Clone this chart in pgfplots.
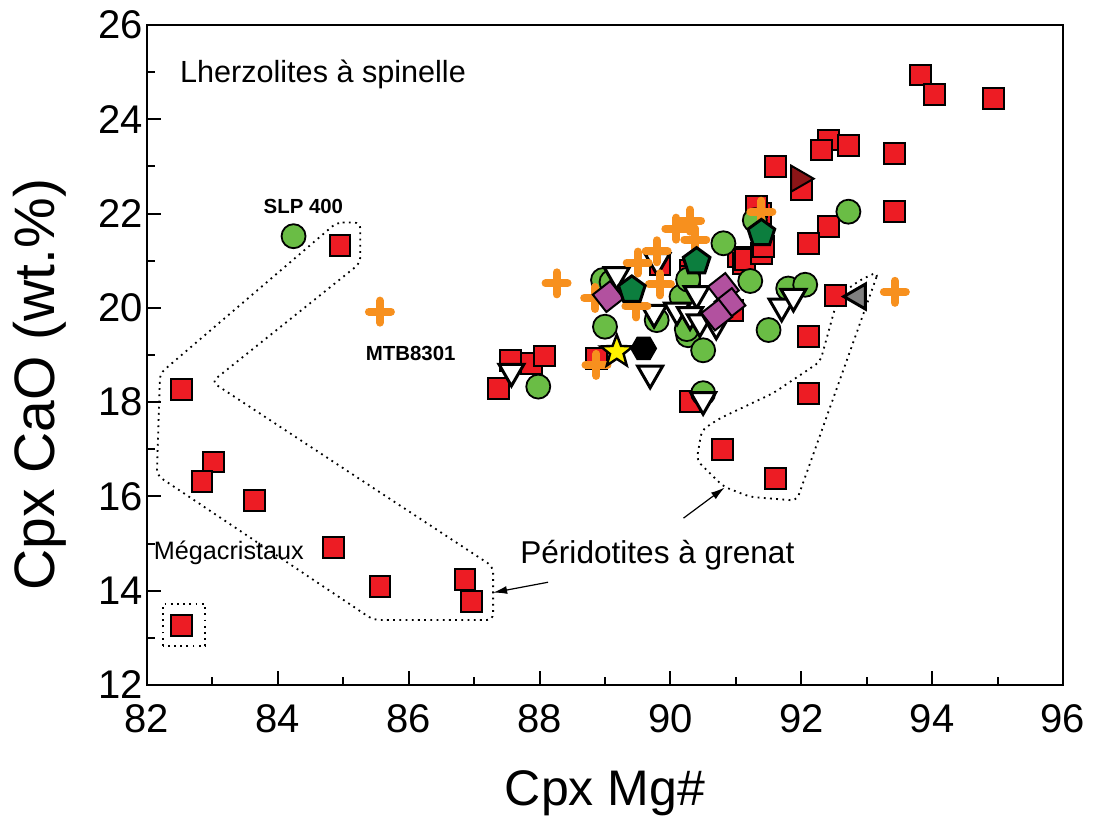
\documentclass[border=0pt]{standalone}
\usepackage{pgfplots}
\pgfplotsset{compat=1.18}
\usepackage{fontspec}
\setmainfont{Liberation Sans}
\usetikzlibrary{plotmarks,arrows.meta}

\definecolor{cred}{HTML}{ED1C24}
\definecolor{cgreen}{HTML}{6ABD45}
\definecolor{corange}{HTML}{F7901E}
\definecolor{cmag}{HTML}{B2519F}
\definecolor{cdgreen}{HTML}{0C7E3E}
\definecolor{cdred}{HTML}{8B1517}
\definecolor{cgray}{HTML}{808080}
\definecolor{cyellow}{HTML}{FFF200}

\pgfdeclareplotmark{hexagon*}{%
  \pgfpathmoveto{\pgfpointpolar{0}{\pgfplotmarksize}}%
  \pgfpathlineto{\pgfpointpolar{60}{\pgfplotmarksize}}%
  \pgfpathlineto{\pgfpointpolar{120}{\pgfplotmarksize}}%
  \pgfpathlineto{\pgfpointpolar{180}{\pgfplotmarksize}}%
  \pgfpathlineto{\pgfpointpolar{240}{\pgfplotmarksize}}%
  \pgfpathlineto{\pgfpointpolar{300}{\pgfplotmarksize}}%
  \pgfpathclose\pgfusepathqfillstroke}
\pgfdeclareplotmark{fstar}{%
  \pgfpathmoveto{\pgfpointpolar{90}{\pgfplotmarksize}}%
  \pgfpathlineto{\pgfpointpolar{126}{0.42*\pgfplotmarksize}}%
  \pgfpathlineto{\pgfpointpolar{162}{\pgfplotmarksize}}%
  \pgfpathlineto{\pgfpointpolar{198}{0.42*\pgfplotmarksize}}%
  \pgfpathlineto{\pgfpointpolar{234}{\pgfplotmarksize}}%
  \pgfpathlineto{\pgfpointpolar{270}{0.42*\pgfplotmarksize}}%
  \pgfpathlineto{\pgfpointpolar{306}{\pgfplotmarksize}}%
  \pgfpathlineto{\pgfpointpolar{342}{0.42*\pgfplotmarksize}}%
  \pgfpathlineto{\pgfpointpolar{18}{\pgfplotmarksize}}%
  \pgfpathlineto{\pgfpointpolar{54}{0.42*\pgfplotmarksize}}%
  \pgfpathclose\pgfusepathqfillstroke}

\pgfplotstableread{
x y
84.95 21.33
82.53 18.27
83.02 16.73
82.84 16.31
83.64 15.92
84.85 14.91
85.56 14.09
86.86 14.24
86.96 13.77
82.53 13.27
87.55 18.89
87.88 18.82
88.08 18.98
87.37 18.29
88.87 18.93
90.30 18.01
89.84 20.91
90.30 20.80
90.30 20.66
90.95 19.95
91.04 21.08
91.11 20.94
91.14 21.02
91.38 22.00
91.32 22.15
91.39 21.16
91.42 21.30
91.60 23.00
92.00 22.50
92.42 23.56
92.31 23.35
92.72 23.45
93.42 23.28
93.42 22.04
93.82 24.94
94.03 24.52
94.94 24.44
92.42 21.72
92.11 21.37
92.52 20.27
92.11 19.39
92.11 18.19
90.80 16.99
91.61 16.38
}\squares

\pgfplotstableread{
x y
84.24 21.52
87.98 18.33
89.00 19.60
88.97 20.59
89.10 20.55
89.79 19.74
90.27 19.42
90.25 19.55
90.50 19.10
90.50 18.19
90.17 20.24
90.27 20.60
90.81 21.37
91.29 21.86
91.22 20.57
91.80 20.41
92.06 20.49
91.50 19.53
92.72 22.04
}\circles

\pgfplotstableread{
x y
87.57 18.65
89.69 18.61
89.18 20.70
89.80 21.00
89.75 19.90
90.10 19.95
90.40 20.30
90.30 19.85
90.45 19.70
90.70 19.65
91.70 20.03
91.88 20.24
90.50 18.05
}\dtri

\pgfplotstableread{
x y
85.56 19.92
88.26 20.52
88.87 18.79
88.85 20.21
89.48 20.03
89.50 20.96
89.79 21.20
89.84 20.50
90.09 21.68
90.30 21.85
90.38 21.45
91.39 22.04
93.43 20.34
}\pluses

\pgfplotstableread{
x y
89.05 20.24
90.81 20.41
90.91 20.09
90.71 19.85
}\diamonds

\pgfplotstableread{
x y
89.41 20.38
90.40 20.98
91.39 21.58
}\pentas

\begin{document}
\begin{tikzpicture}
\path[use as bounding box] (-73.5pt,-67.5pt) rectangle (473pt,342.5pt);
\begin{axis}[
  at={(0,0)}, anchor=south west,
  scale only axis, width=458pt, height=330pt,
  xmin=82, xmax=96, ymin=12, ymax=26,
  xtick={82,84,...,96}, ytick={12,14,...,26},
  minor tick num=1,
  tick align=inside,
  xtick pos=bottom, ytick pos=left,
  major tick length=7pt, minor tick length=4pt,
  axis line style={line width=1pt},
  every tick/.style={line width=1pt, black},
  /pgf/number format/assume math mode=true,
  ticklabel style={font=\fontsize{20}{24}\selectfont},
  xticklabel style={yshift=-6pt},
  yticklabel style={xshift=1.5pt},
  xlabel={Cpx Mg\#},
  ylabel={Cpx CaO (wt.\%)},
  xlabel style={font=\fontsize{25}{30}\selectfont, at={(axis description cs:0.5,-0.183)}, anchor=base},
  ylabel style={font=\fontsize{28.5}{32}\selectfont, at={(axis description cs:-0.117,0.455)}, anchor=center, rotate=0},
  clip=false,
]
% dotted fields
\draw[line width=0.9pt, dash pattern=on 0.9pt off 2.2pt, rounded corners=3pt]
  (axis cs:84.90,21.81) -- (axis cs:85.26,21.81) -- (axis cs:85.26,20.95) -- (axis cs:82.99,18.43)
  -- (axis cs:87.29,14.51) -- (axis cs:87.29,13.38) -- (axis cs:85.46,13.38) -- (axis cs:82.15,16.45)
  -- (axis cs:82.20,18.61) -- cycle;
\draw[line width=0.9pt, dash pattern=on 0.9pt off 2.2pt, rounded corners=3pt]
  (axis cs:93.18,20.77) -- (axis cs:91.93,15.91) -- (axis cs:91.22,15.99) -- (axis cs:90.81,16.21)
  -- (axis cs:90.40,16.77) -- (axis cs:90.48,17.41) -- (axis cs:90.76,17.66) -- (axis cs:91.57,18.19)
  -- (axis cs:92.29,18.86) -- (axis cs:92.52,20.02) -- (axis cs:92.62,20.31) -- (axis cs:92.90,20.59) -- cycle;
\draw[line width=0.9pt, dash pattern=on 0.9pt off 2.2pt]
  (axis cs:82.24,12.83) rectangle (axis cs:82.89,13.71);

\addplot[only marks, mark=square*, mark size=5.2pt, mark options={fill=cred, draw=black, line width=1pt}] table {\squares};
\addplot[only marks, mark=*, mark size=6pt, mark options={fill=cgreen, draw=black, line width=0.9pt}] table {\circles};
\addplot[only marks, mark=triangle*, mark size=7.2pt, mark options={fill=white, draw=black, line width=1.5pt, rotate=180}] table {\dtri};
\addplot[only marks, mark=+, mark size=5.5pt, mark options={draw=corange, line width=4pt, line cap=round}] table {\pluses};
\addplot[only marks, mark=square*, mark size=5.5pt, mark options={fill=cmag, draw=black, line width=1pt, rotate=38}] table {\diamonds};
\addplot[only marks, mark=pentagon*, mark size=7pt, mark options={fill=cdgreen, draw=black, line width=1.5pt}] table {\pentas};
\addplot[only marks, mark=fstar, mark size=8.5pt, mark options={fill=cyellow, draw=black, line width=1.2pt}] coordinates {(89.18,19.07)};
\addplot[only marks, mark=hexagon*, mark size=6.2pt, mark options={fill=black, draw=black, line width=1pt}] coordinates {(89.59,19.14)};
\addplot[only marks, mark=triangle*, mark size=7.5pt, mark options={fill=cdred, draw=black, line width=1pt, rotate=-90}] coordinates {(91.96,22.74)};
\addplot[only marks, mark=triangle*, mark size=7.2pt, mark options={fill=cgray, draw=black, line width=1.5pt, rotate=90}] coordinates {(92.87,20.24)};

% arrows
\draw[-{Latex[length=7pt,width=4pt]}, line width=0.6pt] (axis cs:88.13,14.18) -- (axis cs:87.29,13.96);
\draw[-{Latex[length=7pt,width=4pt]}, line width=0.6pt] (axis cs:90.20,15.54) -- (axis cs:90.83,16.19);

% texts
\node[font=\fontsize{15.3}{18}\selectfont, anchor=base west, inner sep=0pt] at (axis cs:82.50,24.77) {Lherzolites à spinelle};
\node[font=\fontsize{15.8}{18}\selectfont, anchor=base, inner sep=0pt] at (axis cs:89.80,14.58) {Péridotites à grenat};
\node[font=\fontsize{12.6}{15}\selectfont, anchor=base west, inner sep=0pt] at (axis cs:82.10,14.67) {Mégacristaux};
\node[font=\fontsize{10.2}{12}\selectfont\bfseries, anchor=base, inner sep=0pt] at (axis cs:84.39,22.00) {SLP 400};
\node[font=\fontsize{10.2}{12}\selectfont\bfseries, anchor=base, inner sep=0pt] at (axis cs:86.03,18.89) {MTB8301};
\end{axis}
\end{tikzpicture}
\end{document}
